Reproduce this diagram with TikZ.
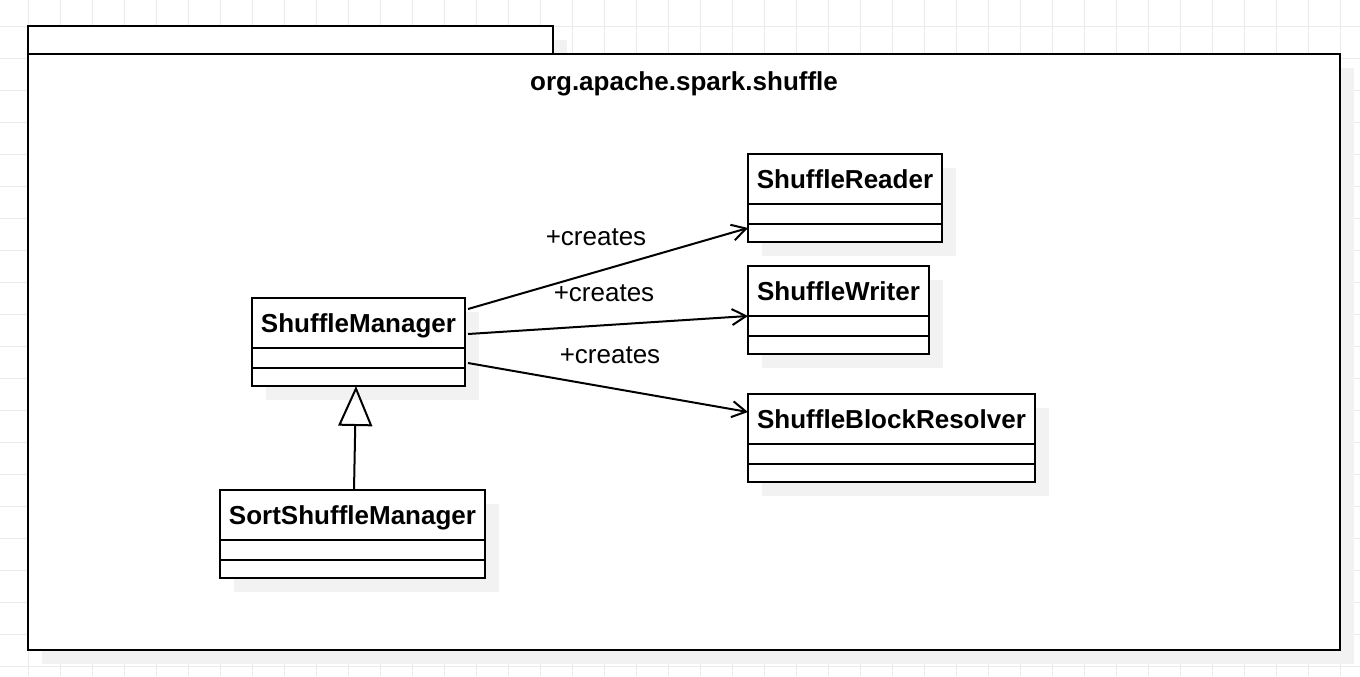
\documentclass[tikz,border=0pt]{standalone}
\usepackage{fontspec}
\setmainfont{Liberation Sans}
\usetikzlibrary{positioning,shadows,arrows.meta}
\newcommand{\diafont}{\fontsize{13}{16}\selectfont}
\tikzset{%
  gridline/.style = {draw=black!8,line width=0.5pt},
  clsshadow/.style = {drop shadow={shadow xshift=7pt,shadow yshift=-7pt,
        fill=black!5,opacity=1}},
  pkg/.style = {rectangle,draw,fill=white,line width=1pt,inner sep=0pt,
        outer sep=0pt,clsshadow},
  cls/.style = {rectangle,draw,fill=white,line width=1pt,inner sep=0pt,
        outer sep=0pt,minimum height=25pt,font=\diafont\bfseries,
        text height=9.5pt,text depth=0pt,clsshadow},
  comp/.style = {rectangle,draw,fill=white,line width=1pt,inner sep=0pt,
        outer sep=0pt,minimum height=10pt,minimum width=#1,clsshadow},
  createarrow/.style = {-{Straight Barb[length=7pt,width=8pt]},line width=1pt},
  inheritarrow/.style = {-{Triangle[open,length=20pt,width=17pt]},line width=1pt},
  lbl/.style = {inner sep=0pt,font=\diafont}
}

\begin{document}
\begin{tikzpicture}[x=0.5pt,y=-0.5pt,font=\diafont]
\useasboundingbox (0,0) rectangle (1360,676);
\foreach \gx in {28,60,...,1340} \draw[gridline] (\gx,0) -- (\gx,676);
\foreach \gy in {26,58,...,666} \draw[gridline] (0,\gy) -- (1360,\gy);

\node[pkg,minimum width=262.5pt,minimum height=14pt] (pkgtab) at (290.5,40) {};
\node[pkg,minimum width=656pt,minimum height=298pt] (pkg) at (684,352) {};
\node[font=\diafont\bfseries,text height=9.5pt,text depth=0pt] (pkgname) at (684,81) {org.apache.spark.shuffle};

\node[cls,minimum width=97pt] (reader) at (845,179) {ShuffleReader};
\node[comp=97pt,below=0pt of reader] (reader-a) {};
\node[comp=97pt,minimum height=9pt,below=0pt of reader-a] (reader-b) {};

\node[cls,minimum width=90.5pt] (writer) at (838.5,291) {ShuffleWriter};
\node[comp=90.5pt,below=0pt of writer] (writer-a) {};
\node[comp=90.5pt,minimum height=9pt,below=0pt of writer-a] (writer-b) {};

\node[cls,minimum width=143.5pt] (resolver) at (891.5,419) {ShuffleBlockResolver};
\node[comp=143.5pt,below=0pt of resolver] (resolver-a) {};
\node[comp=143.5pt,minimum height=9pt,below=0pt of resolver-a] (resolver-b) {};

\node[cls,minimum width=106.5pt] (mgr) at (358.5,323) {ShuffleManager};
\node[comp=106.5pt,below=0pt of mgr] (mgr-a) {};
\node[comp=106.5pt,minimum height=9pt,below=0pt of mgr-a] (mgr-b) {};

\node[cls,minimum width=132.5pt] (sortmgr) at (352.5,515) {SortShuffleManager};
\node[comp=132.5pt,below=0pt of sortmgr] (sortmgr-a) {};
\node[comp=132.5pt,minimum height=9pt,below=0pt of sortmgr-a] (sortmgr-b) {};

\draw[createarrow] ([xshift=1.5pt,yshift=7pt]mgr.east) -- ([yshift=2.5pt]reader-b.west);
\draw[createarrow] ([xshift=1.5pt,yshift=-5.5pt]mgr.east) -- (writer.south west);
\draw[createarrow] ([xshift=1.5pt,yshift=-20pt]mgr.east) -- ([yshift=3.5pt]resolver.west);
\node[lbl] (lblreader) at (596,237) {+creates};
\node[lbl] (lblwriter) at (604,293) {+creates};
\node[lbl] (lblresolver) at (610,355) {+creates};

\draw[inheritarrow] ([xshift=0.75pt]sortmgr.north) -- ([xshift=-1.25pt]mgr-b.south);
\end{tikzpicture}
\end{document}
